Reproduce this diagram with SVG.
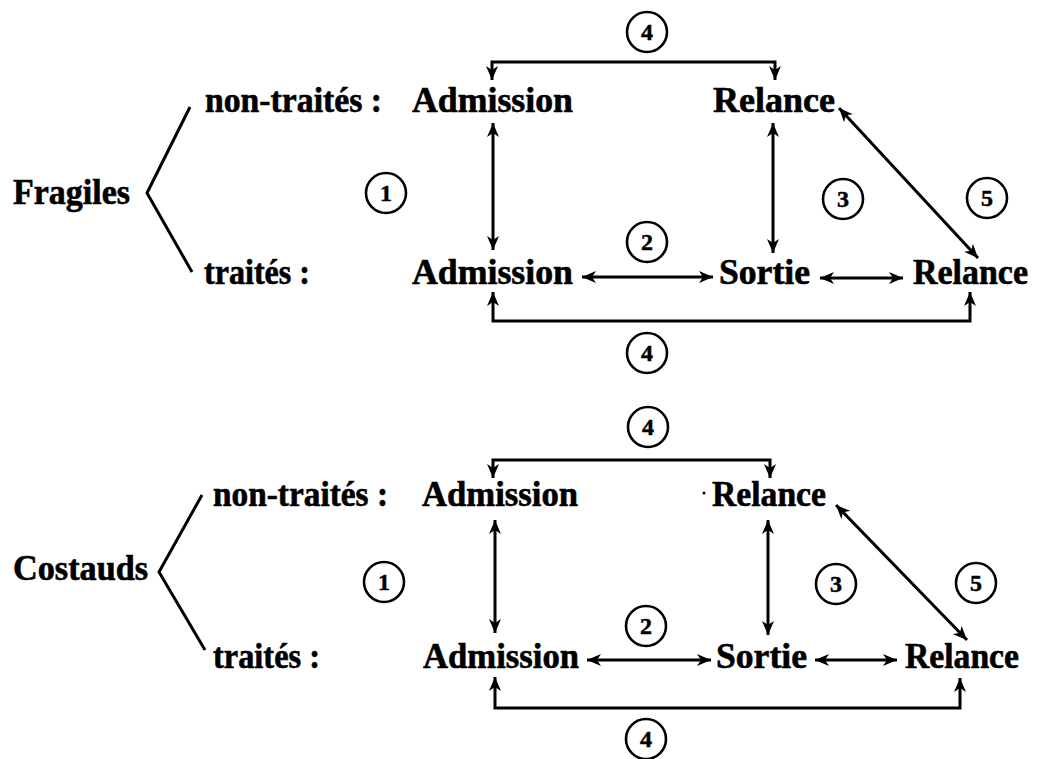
<svg xmlns="http://www.w3.org/2000/svg" width="1042" height="759" viewBox="0 0 1042 759">
<style>
.t{font-family:"Liberation Serif","Times New Roman",serif;font-weight:bold;font-size:35px;fill:#000;stroke:#000;stroke-width:0.6}
.n{font-family:"Liberation Serif","Times New Roman",serif;font-weight:bold;font-size:24px;fill:#000;stroke:#000;stroke-width:0.5;text-anchor:middle}
.c{fill:none;stroke:#000;stroke-width:2.6}
.l{fill:none;stroke:#000;stroke-width:3}
.d{marker-start:url(#ah);marker-end:url(#ah)}
</style>
<defs>
<marker id="ah" viewBox="0 0 14 12" refX="14" refY="6" markerWidth="14" markerHeight="12" markerUnits="userSpaceOnUse" orient="auto-start-reverse">
<path d="M0,0 L14,6 L0,12 L4,6 z" fill="#000"/>
</marker>
</defs>
<rect width="1042" height="759" fill="#fff"/>

<!-- TOP HALF -->
<g id="fragiles"><text class="t" x="13" y="204" textLength="117" lengthAdjust="spacingAndGlyphs">Fragiles</text></g>
<g id="brace-top"><polyline class="l" points="190,107 147,193 192,272"/></g>
<g id="nt1"><text class="t" x="205" y="112" textLength="177" lengthAdjust="spacingAndGlyphs">non-traités :</text></g>
<g id="t1"><text class="t" x="204" y="284" textLength="106" lengthAdjust="spacingAndGlyphs">traités :</text></g>
<g id="adm-nt1"><text class="t" x="412" y="112" textLength="161" lengthAdjust="spacingAndGlyphs">Admission</text></g>
<g id="rel-nt1"><text class="t" x="713" y="112" textLength="122" lengthAdjust="spacingAndGlyphs">Relance</text></g>
<g id="adm-t1"><text class="t" x="412" y="284" textLength="161" lengthAdjust="spacingAndGlyphs">Admission</text></g>
<g id="sortie1"><text class="t" x="719" y="284" textLength="91" lengthAdjust="spacingAndGlyphs">Sortie</text></g>
<g id="rel-t1"><text class="t" x="913" y="284" textLength="115" lengthAdjust="spacingAndGlyphs">Relance</text></g>

<g id="c4a"><circle class="c" cx="647" cy="32" r="20"/><text class="n" x="647" y="40">4</text></g>
<g id="c1a"><circle class="c" cx="386" cy="193" r="20"/><text class="n" x="386" y="201">1</text></g>
<g id="c2a"><circle class="c" cx="647" cy="242" r="20"/><text class="n" x="647" y="250">2</text></g>
<g id="c3a"><circle class="c" cx="843" cy="199" r="20"/><text class="n" x="843" y="207">3</text></g>
<g id="c5a"><circle class="c" cx="987" cy="198" r="20"/><text class="n" x="987" y="206">5</text></g>
<g id="c4b"><circle class="c" cx="647" cy="353" r="20"/><text class="n" x="647" y="361">4</text></g>

<!-- BOTTOM HALF -->
<g id="costauds"><text class="t" x="13" y="580" textLength="135" lengthAdjust="spacingAndGlyphs">Costauds</text></g>
<g id="brace-bot"><polyline class="l" points="202,495 159,572 205,650"/></g>
<g id="nt2"><text class="t" x="213" y="506" textLength="175" lengthAdjust="spacingAndGlyphs">non-traités :</text></g>
<g id="t2"><text class="t" x="213" y="668" textLength="107" lengthAdjust="spacingAndGlyphs">traités :</text></g>
<g id="adm-nt2"><text class="t" x="422" y="506" textLength="156" lengthAdjust="spacingAndGlyphs">Admission</text></g>
<g id="rel-nt2"><text class="t" x="712" y="506" textLength="114" lengthAdjust="spacingAndGlyphs">Relance</text></g>
<circle cx="704" cy="493" r="1.5" fill="#000"/>
<g id="adm-t2"><text class="t" x="423" y="668" textLength="156" lengthAdjust="spacingAndGlyphs">Admission</text></g>
<g id="sortie2"><text class="t" x="716" y="668" textLength="91" lengthAdjust="spacingAndGlyphs">Sortie</text></g>
<g id="rel-t2"><text class="t" x="905" y="668" textLength="114" lengthAdjust="spacingAndGlyphs">Relance</text></g>

<g id="c4c"><circle class="c" cx="648" cy="427" r="20"/><text class="n" x="648" y="435">4</text></g>
<g id="c1b"><circle class="c" cx="384" cy="582" r="20"/><text class="n" x="384" y="590">1</text></g>
<g id="c2b"><circle class="c" cx="646" cy="626" r="20"/><text class="n" x="646" y="634">2</text></g>
<g id="c3b"><circle class="c" cx="836" cy="584" r="20"/><text class="n" x="836" y="592">3</text></g>
<g id="c5b"><circle class="c" cx="976" cy="583" r="20"/><text class="n" x="976" y="591">5</text></g>
<g id="c4d"><circle class="c" cx="646" cy="739" r="20"/><text class="n" x="646" y="747">4</text></g>

<g id="connectors">
<!-- top half -->
<path class="l d" d="M492,80 V62 H775 V80"/>
<line class="l d" x1="493" y1="123" x2="493" y2="250"/>
<line class="l d" x1="773" y1="123" x2="773" y2="253"/>
<line class="l d" x1="839" y1="108" x2="978" y2="258"/>
<line class="l d" x1="582" y1="277" x2="713" y2="277"/>
<line class="l d" x1="820" y1="278" x2="903" y2="278"/>
<path class="l d" d="M493,292 V321 H970 V292"/>
<!-- bottom half -->
<path class="l d" d="M493,478 V460 H770 V478"/>
<line class="l d" x1="495" y1="520" x2="495" y2="633"/>
<line class="l d" x1="768" y1="520" x2="768" y2="635"/>
<line class="l d" x1="836" y1="505" x2="967" y2="640"/>
<line class="l d" x1="587" y1="660" x2="711" y2="660"/>
<line class="l d" x1="815" y1="660" x2="897" y2="660"/>
<path class="l d" d="M495,677 V708 H960 V678"/>
</g>
</svg>
